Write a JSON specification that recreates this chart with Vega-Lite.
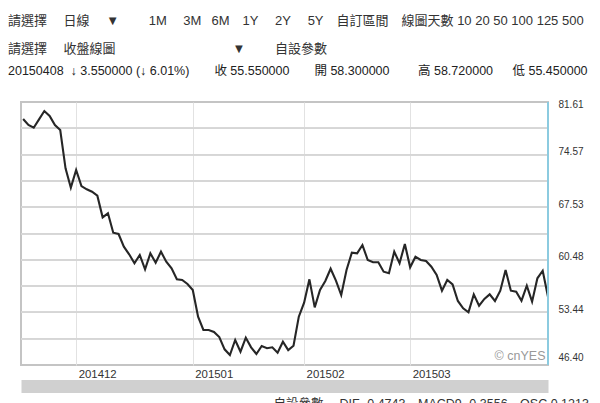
{
  "$schema": "https://vega.github.io/schema/vega-lite/v6.json",
  "width": 527,
  "height": 263,
  "autosize": {"type": "none"},
  "padding": {"left": 21, "top": 102, "right": 52, "bottom": 38},
  "background": "white",
  "title": {
    "text": [
      "請選擇\u2003\u00a0日線\u2003\u00a0▼\u2003\u2003 1M\u2003\u00a03M\u2002\u00a06M\u20031Y\u2003\u00a02Y\u2003\u00a05Y\u2003自訂區間\u2003線圖天數 10 20 50 100 125 500",
      "請選擇\u2003\u00a0收盤線圖\u2003\u2003\u2003\u2003\u2003\u2003\u2003\u2003\u2003▼\u2003\u2003\u00a0自設參數"
    ],
    "subtitle": "20150408\u00a0 ↓ 3.550000 (↓ 6.01%)\u2003\u2003收 55.550000\u2003\u2003開 58.300000\u2003\u2003\u00a0高 58.720000\u2003\u00a0\u00a0低 55.450000",
    "anchor": "start",
    "frame": "group",
    "dx": -13,
    "offset": 22,
    "font": "Liberation Sans, Noto Sans CJK TC",
    "fontSize": 13,
    "fontWeight": "normal",
    "color": "#333333",
    "lineHeight": 28,
    "subtitleFont": "Liberation Sans, Noto Sans CJK TC",
    "subtitleFontSize": 12.5,
    "subtitleColor": "#222222",
    "subtitlePadding": 9
  },
  "data": {
    "values": [
      {"date": "2014-11-17", "close": 79.33},
      {"date": "2014-11-18", "close": 78.53},
      {"date": "2014-11-19", "close": 78.17},
      {"date": "2014-11-20", "close": 79.29},
      {"date": "2014-11-21", "close": 80.40},
      {"date": "2014-11-24", "close": 79.74},
      {"date": "2014-11-25", "close": 78.53},
      {"date": "2014-11-26", "close": 77.86},
      {"date": "2014-11-27", "close": 72.73},
      {"date": "2014-11-28", "close": 70.14},
      {"date": "2014-12-01", "close": 72.51},
      {"date": "2014-12-02", "close": 70.36},
      {"date": "2014-12-03", "close": 69.92},
      {"date": "2014-12-04", "close": 69.60},
      {"date": "2014-12-05", "close": 69.07},
      {"date": "2014-12-08", "close": 66.17},
      {"date": "2014-12-09", "close": 66.71},
      {"date": "2014-12-10", "close": 64.11},
      {"date": "2014-12-11", "close": 63.94},
      {"date": "2014-12-12", "close": 62.24},
      {"date": "2014-12-15", "close": 61.22},
      {"date": "2014-12-16", "close": 60.02},
      {"date": "2014-12-17", "close": 61.13},
      {"date": "2014-12-18", "close": 59.21},
      {"date": "2014-12-19", "close": 61.35},
      {"date": "2014-12-22", "close": 60.10},
      {"date": "2014-12-23", "close": 61.57},
      {"date": "2014-12-24", "close": 60.23},
      {"date": "2014-12-26", "close": 59.35},
      {"date": "2014-12-29", "close": 57.87},
      {"date": "2014-12-30", "close": 57.78},
      {"date": "2014-12-31", "close": 57.24},
      {"date": "2015-01-02", "close": 56.44},
      {"date": "2015-01-05", "close": 52.87},
      {"date": "2015-01-06", "close": 51.09},
      {"date": "2015-01-07", "close": 51.09},
      {"date": "2015-01-08", "close": 50.83},
      {"date": "2015-01-09", "close": 50.15},
      {"date": "2015-01-12", "close": 48.50},
      {"date": "2015-01-13", "close": 47.74},
      {"date": "2015-01-14", "close": 49.75},
      {"date": "2015-01-15", "close": 48.18},
      {"date": "2015-01-16", "close": 50.05},
      {"date": "2015-01-19", "close": 48.77},
      {"date": "2015-01-20", "close": 47.87},
      {"date": "2015-01-21", "close": 48.94},
      {"date": "2015-01-22", "close": 48.64},
      {"date": "2015-01-23", "close": 48.77},
      {"date": "2015-01-26", "close": 48.05},
      {"date": "2015-01-27", "close": 49.52},
      {"date": "2015-01-28", "close": 48.39},
      {"date": "2015-01-29", "close": 48.98},
      {"date": "2015-01-30", "close": 52.87},
      {"date": "2015-02-02", "close": 54.74},
      {"date": "2015-02-03", "close": 57.87},
      {"date": "2015-02-04", "close": 54.12},
      {"date": "2015-02-05", "close": 56.44},
      {"date": "2015-02-06", "close": 57.65},
      {"date": "2015-02-09", "close": 59.29},
      {"date": "2015-02-10", "close": 57.69},
      {"date": "2015-02-11", "close": 55.77},
      {"date": "2015-02-12", "close": 59.12},
      {"date": "2015-02-13", "close": 61.43},
      {"date": "2015-02-16", "close": 61.35},
      {"date": "2015-02-17", "close": 62.46},
      {"date": "2015-02-18", "close": 60.46},
      {"date": "2015-02-19", "close": 60.15},
      {"date": "2015-02-20", "close": 60.15},
      {"date": "2015-02-23", "close": 58.89},
      {"date": "2015-02-24", "close": 58.68},
      {"date": "2015-02-25", "close": 61.57},
      {"date": "2015-02-26", "close": 60.02},
      {"date": "2015-02-27", "close": 62.60},
      {"date": "2015-03-02", "close": 59.48},
      {"date": "2015-03-03", "close": 60.90},
      {"date": "2015-03-04", "close": 60.46},
      {"date": "2015-03-05", "close": 60.32},
      {"date": "2015-03-06", "close": 59.56},
      {"date": "2015-03-09", "close": 58.45},
      {"date": "2015-03-10", "close": 56.35},
      {"date": "2015-03-11", "close": 57.78},
      {"date": "2015-03-12", "close": 57.20},
      {"date": "2015-03-13", "close": 54.97},
      {"date": "2015-03-16", "close": 53.99},
      {"date": "2015-03-17", "close": 53.46},
      {"date": "2015-03-18", "close": 55.86},
      {"date": "2015-03-19", "close": 54.34},
      {"date": "2015-03-20", "close": 55.24},
      {"date": "2015-03-23", "close": 55.86},
      {"date": "2015-03-24", "close": 54.97},
      {"date": "2015-03-25", "close": 56.35},
      {"date": "2015-03-26", "close": 59.12},
      {"date": "2015-03-27", "close": 56.35},
      {"date": "2015-03-30", "close": 56.21},
      {"date": "2015-03-31", "close": 55.01},
      {"date": "2015-04-01", "close": 57.02},
      {"date": "2015-04-02", "close": 54.88},
      {"date": "2015-04-06", "close": 58.01},
      {"date": "2015-04-07", "close": 59.02},
      {"date": "2015-04-08", "close": 55.54}
    ]
  },
  "layer": [
    {"mark": {"type": "rule", "color": "#d6d6d6", "strokeWidth": 1.3}, "encoding": {"y": {"datum": 49.92, "type": "quantitative"}}},
    {"mark": {"type": "rule", "color": "#d6d6d6", "strokeWidth": 1.3}, "encoding": {"y": {"datum": 53.44, "type": "quantitative"}}},
    {"mark": {"type": "rule", "color": "#d6d6d6", "strokeWidth": 1.3}, "encoding": {"y": {"datum": 56.96, "type": "quantitative"}}},
    {"mark": {"type": "rule", "color": "#d6d6d6", "strokeWidth": 1.3}, "encoding": {"y": {"datum": 60.48, "type": "quantitative"}}},
    {"mark": {"type": "rule", "color": "#d6d6d6", "strokeWidth": 1.3}, "encoding": {"y": {"datum": 64.00, "type": "quantitative"}}},
    {"mark": {"type": "rule", "color": "#d6d6d6", "strokeWidth": 1.3}, "encoding": {"y": {"datum": 67.53, "type": "quantitative"}}},
    {"mark": {"type": "rule", "color": "#d6d6d6", "strokeWidth": 1.3}, "encoding": {"y": {"datum": 71.05, "type": "quantitative"}}},
    {"mark": {"type": "rule", "color": "#d6d6d6", "strokeWidth": 1.3}, "encoding": {"y": {"datum": 74.57, "type": "quantitative"}}},
    {"mark": {"type": "rule", "color": "#d6d6d6", "strokeWidth": 1.3}, "encoding": {"y": {"datum": 78.09, "type": "quantitative"}}},
    {
      "mark": {"type": "line", "color": "#262626", "strokeWidth": 2.1},
      "encoding": {
        "x": {
          "field": "date",
          "type": "ordinal",
          "scale": {"type": "point", "padding": 0.2, "align": 1},
          "axis": {
            "values": ["2014-12-01", "2015-01-02", "2015-02-02", "2015-03-02"],
            "labelExpr": "replace(slice(datum.value, 0, 7), '-', '')",
            "title": "© cnYES",
            "titleAnchor": "end",
            "titleAlign": "right",
            "titleBaseline": "bottom",
            "titleX": 524,
            "titleY": -3,
            "titleColor": "#999999",
            "titleFont": "Liberation Sans",
            "titleFontSize": 12.5,
            "titleFontWeight": "normal",
            "domain": false,
            "ticks": false,
            "tickSize": 0,
            "grid": true,
            "gridColor": "#e2e2e2",
            "gridWidth": 1,
            "labelAngle": 0,
            "labelAlign": "left",
            "labelBaseline": "top",
            "labelPadding": 3,
            "labelOffset": 2,
            "labelFontSize": 11.4,
            "labelColor": "#333333",
            "labelFont": "Liberation Sans"
          }
        },
        "y": {
          "field": "close",
          "type": "quantitative",
          "scale": {"domain": [46.40, 81.61], "zero": false, "nice": false},
          "axis": {
            "orient": "right",
            "values": [46.40, 49.92, 53.44, 56.96, 60.48, 64.00, 67.53, 71.05, 74.57, 78.09, 81.61],
            "labelExpr": "indexof([46.4, 53.44, 60.48, 67.53, 74.57, 81.61], datum.value) >= 0 ? format(datum.value, '.2f') : ''",
            "title": null,
            "domain": false,
            "ticks": false,
            "grid": false,
            "labelPadding": 10,
            "labelFontSize": 10,
            "labelColor": "#333333",
            "labelFont": "Liberation Sans",
            "labelFlush": true,
            "labelOffset": -3
          }
        }
      }
    },
    {
      "transform": [{"filter": "datum.date === '2015-04-08'"}],
      "mark": {"type": "rule", "color": "#8ccbe0", "strokeWidth": 2},
      "encoding": {
        "x": {
          "field": "date",
          "type": "ordinal",
          "axis": {
            "orient": "bottom",
            "offset": 21,
            "domain": true,
            "domainWidth": 13,
            "domainColor": "#d0d0d0",
            "labels": false,
            "ticks": false,
            "grid": false,
            "title": "自設參數\u2003 DIF -0.4743\u2003MACD9 -0.3556\u2003OSC 0.1213",
            "titleAnchor": "start",
            "titleAlign": "left",
            "titleBaseline": "top",
            "titleX": 252,
            "titleY": 11,
            "titleColor": "#333333",
            "titleFont": "Liberation Sans, Noto Sans CJK TC",
            "titleFontSize": 12.5,
            "titleFontWeight": "normal"
          }
        }
      }
    }
  ],
  "resolve": {"axis": {"x": "independent"}},
  "config": {
    "view": {"stroke": "#c4c4c4", "strokeWidth": 2}
  }
}
